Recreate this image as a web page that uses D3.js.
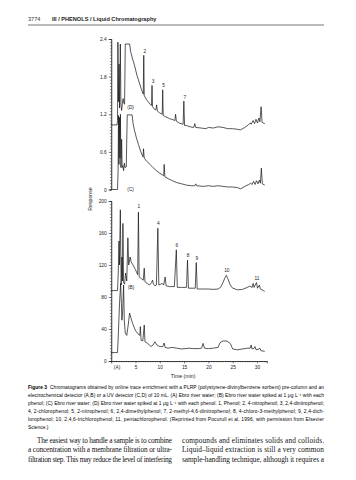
<!DOCTYPE html>
<html><head><meta charset="utf-8">
<script src="https://cdn.jsdelivr.net/npm/d3@7"></script>
<style>body{margin:0;background:#fff}svg{display:block}</style>
</head><body>
<svg id="c" width="356" height="480"></svg>
<script>
// ---- data ----
const xTicks = [5, 10, 15, 20, 25, 30];
const topTicks = [0, 0.6, 1.2, 1.8, 2.4];
const bottomTicks = [0, 40, 80, 120, 160, 200];
// trace D (UV, spiked) : [time min, response]
const traceD = [[0,1.03],[1.2,1.03],[1.3,1.1],[1.38,2.35],[1.5,1.4],[1.62,2.0],[1.72,1.3],[1.88,2.32],[2.0,1.35],[2.15,1.26],[2.3,1.38],[2.45,1.45],[2.6,1.38],[2.75,1.36],[2.9,2.32],[3.8,2.32],[4.0,2.2],[4.4,2.08],[4.8,1.98],[5.3,1.82],[5.8,1.7],[6.2,1.6],[6.6,1.52],[6.7,2.14],[6.8,1.5],[7.2,1.44],[7.6,1.4],[8.0,1.36],[8.3,1.34],[8.4,1.66],[8.5,1.32],[8.9,1.28],[9.2,1.27],[9.35,1.35],[9.5,1.25],[10.0,1.22],[10.5,1.2],[10.6,1.59],[10.7,1.18],[11.2,1.16],[12.0,1.13],[12.8,1.11],[13.1,1.1],[13.25,1.2],[13.4,1.09],[14.0,1.06],[14.8,1.04],[14.95,1.41],[15.1,1.02],[15.5,1.02],[16.2,1.0],[17.0,0.99],[17.2,1.05],[17.4,0.99],[18.5,0.98],[19.5,0.97],[20.0,0.99],[21,0.98],[22,1.0],[23,0.99],[24,0.97],[25,0.97],[26,0.96],[26.6,0.95],[27.5,0.99],[28.2,1.03],[28.6,1.06],[28.8,1.04],[29.2,1.1],[29.5,1.05],[29.8,1.12],[30.1,1.06],[30.4,1.14],[30.6,1.08],[30.85,1.32],[31.05,1.07],[31.6,1.05]];
// trace C (UV, river water)
const traceC = [[0,0],[1.3,0],[1.42,0.3],[1.5,1.18],[1.6,0.4],[1.7,1.15],[1.8,0.5],[1.9,1.2],[2.0,0.35],[2.15,0.8],[2.25,0.35],[2.4,0.38],[2.55,0.3],[2.7,0.42],[2.85,0.35],[3.1,0.36],[3.3,1.19],[4.3,1.19],[4.5,1.05],[4.8,0.94],[5.2,0.82],[5.6,0.72],[6.1,0.6],[6.55,0.52],[6.65,0.65],[6.8,0.5],[7.3,0.45],[8.0,0.4],[8.6,0.35],[9.3,0.3],[10.0,0.26],[10.8,0.22],[10.9,0.4],[11.05,0.2],[11.8,0.17],[12.6,0.14],[13.5,0.11],[14.5,0.09],[15.5,0.07],[16.5,0.06],[17.2,0.06],[17.4,0.09],[17.6,0.06],[19,0.05],[20,0.06],[21,0.05],[22,0.06],[23,0.05],[24,0.04],[25,0.04],[26,0.03],[26.6,0.01],[27.5,0.05],[28.3,0.08],[28.7,0.1],[29.0,0.08],[29.3,0.13],[29.6,0.08],[29.9,0.14],[30.2,0.09],[30.5,0.15],[30.7,0.1],[30.9,0.34],[31.1,0.09],[31.6,0.07]];
// trace B (electrochemical, spiked)
const traceB = [[0,88],[1.3,88],[1.45,110],[1.6,150],[1.7,120],[1.88,189],[2.05,95],[2.2,130],[2.3,100],[2.41,172],[2.55,98],[2.75,96],[2.95,110],[3.2,100],[3.43,154],[3.6,120],[3.9,130],[4.1,124],[4.5,120],[5.0,114],[5.45,108],[5.6,186],[5.75,105],[6.2,103],[6.6,101],[6.8,116],[6.95,99],[7.4,97],[7.9,95],[8.3,98],[8.5,101],[8.7,96],[9.0,94],[9.3,95],[9.6,166],[9.8,95],[10.2,96],[10.5,97],[10.8,95],[11.1,105],[11.3,94],[12.0,93],[13.0,93],[13.4,139],[13.6,92],[14.5,92],[15.5,92],[15.7,126],[15.9,91],[16.8,91],[17.3,91],[17.5,123],[17.7,90],[19,90],[20,90],[21,89.5],[22,90],[22.5,92],[23.0,98],[23.4,104],[23.7,107],[24.0,103],[24.5,95],[25,91],[26,89],[27,89.5],[28,92],[28.5,93.5],[29.0,92],[29.2,97],[29.4,92],[29.9,98],[30.1,91],[30.5,95],[30.7,90],[31.6,87]];
// trace A (electrochemical, river water)
const traceA = [[0,10.5],[1.3,10.5],[1.45,30],[1.7,70],[1.94,97],[2.1,72],[2.2,51],[2.35,60],[2.55,95],[2.7,50],[2.9,35],[3.2,32],[3.5,45],[3.78,60],[4.0,55],[4.4,47],[5.0,38],[5.5,34],[5.9,32],[6.0,43],[6.15,26],[6.5,25],[6.8,45],[6.95,24],[7.5,22],[8.2,18],[8.6,20],[9.0,24],[9.4,20],[10.0,18],[10.6,18],[10.9,22.5],[11.1,17],[11.7,16],[12.5,17],[13.5,16],[14.5,15],[16,16],[17,15.5],[18,15.5],[18.6,16],[18.9,22],[19.2,16],[20,15.5],[21,16],[22,17],[22.4,23],[23,25],[23.8,25],[24.5,22],[25.0,15],[26,14],[27,15],[28,16],[28.6,16],[28.8,20],[29.0,15],[29.4,16],[29.6,18],[29.8,14],[30.4,15],[30.6,16],[30.8,13],[31.6,12]];
// peak labels
const topPeaks = [["2",6.7,2.14],["3",8.4,1.66],["5",10.6,1.59],["7",14.95,1.41]];
const bottomPeaks = [["1",5.6,187],["4",9.6,166],["6",13.4,139],["8",15.7,126],["9",17.5,123],["10",23.7,107],["11",29.9,98]];

const captionLines = [
 ["Chromatograms obtained by online trace enrichment with a PLRP (polystyrene-divinylbenzene sorbent) pre-column and an", true],
 ["electrochemical detector (A,B) or a UV detector (C,D) of 10 mL. (A) Ebro river water; (B) Ebro river water spiked at 1 \u03bcg L\u207b\u00b9 with each", true],
 ["phenol; (C) Ebro river water; (D) Ebro river water spiked at 1 \u03bcg L\u207b\u00b9 with each phenol. 1, Phenol; 2, 4-nitrophenol; 3, 2,4-dinitrophenol;", true],
 ["4, 2-chlorophenol; 5, 2-nitrophenol; 6, 2,4-dimethylphenol; 7, 2-methyl-4,6-dinitrophenol; 8, 4-chloro-3-methylphenol; 9, 2,4-dich-", true],
 ["lorophenol; 10, 2,4,6-trichlorophenol; 11, pentachlorophenol. (Reprinted from Pocurull et al. 1996, with permission from Elsevier", true],
 ["Science.)", false]
];
const bodyLeft = ["The easiest way to handle a sample is to combine","a concentration with a membrane filtration or ultra-","filtration step. This may reduce the level of interfering"];
const bodyRight = ["compounds and eliminates solids and colloids.","Liquid\u2013liquid extraction is still a very common","sample-handling technique, although it requires a"];

// ---- drawing ----
const svg = d3.select("#c");
const sans = "Liberation Sans, Arial, sans-serif";
const serif = "Liberation Serif, Times New Roman, serif";

// header
svg.append("text").attr("x",28).attr("y",21).attr("font-family",sans).attr("font-size",5.6).attr("fill","#333").text("3774");
svg.append("text").attr("x",52).attr("y",21).attr("font-family",sans).attr("font-size",5.6).attr("font-weight","bold").attr("fill","#222").text("III / PHENOLS / Liquid Chromatography");
svg.append("line").attr("x1",28).attr("x2",324).attr("y1",25).attr("y2",25).attr("stroke","#777").attr("stroke-width",1.2);

const x = d3.scaleLinear().domain([0,32]).range([111.2,266.7]);
const yTop = d3.scaleLinear().domain([0,2.4]).range([189.5,39]);
const yBot = d3.scaleLinear().domain([0,200]).range([361,201]);

const axisFont = 4.8;
function styleAxis(g){
  g.selectAll("path.domain").attr("stroke","#222").attr("stroke-width",0.6);
  g.selectAll(".tick line").attr("stroke","#222").attr("stroke-width",0.5);
  g.selectAll(".tick text").attr("font-family",sans).attr("font-size",axisFont).attr("fill","#222");
}
// top y axis
const gTopMinor = svg.append("g").attr("transform","translate(111.2,0)")
  .call(d3.axisLeft(yTop).tickValues(d3.range(0,2.401,0.05)).tickSize(1.3).tickFormat(""));
styleAxis(gTopMinor);
const gTop = svg.append("g").attr("transform","translate(111.2,0)")
  .call(d3.axisLeft(yTop).tickValues(topTicks).tickSize(2.5).tickPadding(2).tickFormat(d=>d===0?"0":d3.format(".1f")(d)));
styleAxis(gTop);
// bottom y axis
const gBotMinor = svg.append("g").attr("transform","translate(111.2,0)")
  .call(d3.axisLeft(yBot).tickValues(d3.range(0,200.1,4)).tickSize(1.3).tickFormat(""));
styleAxis(gBotMinor);
const gBot = svg.append("g").attr("transform","translate(111.2,0)")
  .call(d3.axisLeft(yBot).tickValues(bottomTicks).tickSize(2.5).tickPadding(2).tickFormat(d3.format("d")));
styleAxis(gBot);
// x axis
const gXMinor = svg.append("g").attr("transform","translate(0,361)")
  .call(d3.axisBottom(x).tickValues(d3.range(0,32.01,0.5)).tickSize(1.3).tickFormat(""));
styleAxis(gXMinor);
const gX = svg.append("g").attr("transform","translate(0,361)")
  .call(d3.axisBottom(x).tickValues(xTicks).tickSize(2.5).tickPadding(2.5).tickFormat(d3.format("d")));
styleAxis(gX);

svg.append("text").attr("transform","translate(92,199) rotate(-90)").attr("text-anchor","middle")
  .attr("font-family",sans).attr("font-size",5.2).attr("fill","#222").text("Response");
svg.append("text").attr("x",x(14.8)).attr("y",378).attr("text-anchor","middle")
  .attr("font-family",sans).attr("font-size",5.2).attr("fill","#222").text("Time (min)");

// traces
const lineTop = d3.line().x(d=>x(d[0])).y(d=>yTop(d[1]));
const lineBot = d3.line().x(d=>x(d[0])).y(d=>yBot(d[1]));
[[traceD,lineTop],[traceC,lineTop],[traceB,lineBot],[traceA,lineBot]].forEach(([data,ln])=>{
  svg.append("path").datum(data).attr("d",ln).attr("fill","none").attr("stroke","#111").attr("stroke-width",0.7).attr("stroke-linejoin","round");
});

// peak labels
const lab = (tx,ty,t,anchor="middle")=>svg.append("text").attr("x",tx).attr("y",ty).attr("text-anchor",anchor)
  .attr("font-family",sans).attr("font-size",4.8).attr("fill","#222").text(t);
topPeaks.forEach(p=>lab(x(p[1])+1,yTop(p[2])-2.5,p[0]));
bottomPeaks.forEach(p=>lab(x(p[1])+0.5,yBot(p[2])-3,p[0]));
lab(x(4.0),yTop(1.28),"(D)");
lab(x(4.0),yTop(-0.02),"(C)");
lab(x(4.1),yBot(90),"(B)");
lab(x(1.2),369.3,"(A)");

// caption
const capFont = 4.9;
captionLines.forEach((l,i)=>{
  const yy = 389 + i*8;
  if(i===0){
    svg.append("text").attr("x",28).attr("y",yy).attr("font-family",sans).attr("font-size",capFont).attr("font-weight","bold").text("Figure 3");
    svg.append("text").attr("x",50).attr("y",yy).attr("font-family",sans).attr("font-size",capFont)
      .attr("textLength",274).attr("lengthAdjust","spacing").text(l[0]);
  } else {
    const t = svg.append("text").attr("x",28).attr("y",yy).attr("font-family",sans).attr("font-size",capFont).text(l[0]);
    if(l[1]) t.attr("textLength",296).attr("lengthAdjust","spacing");
  }
});
// body
const bodyFont = 7.3;
bodyLeft.forEach((l,i)=>{
  const x0 = i===0?37:28;
  svg.append("text").attr("x",x0).attr("y",442.5+i*9.5).attr("font-family",serif).attr("font-size",bodyFont)
    .attr("textLength",172-x0).attr("lengthAdjust","spacing").attr("fill","#111").text(l);
});
bodyRight.forEach((l,i)=>{
  svg.append("text").attr("x",182).attr("y",442.5+i*9.5).attr("font-family",serif).attr("font-size",bodyFont)
    .attr("textLength",142).attr("lengthAdjust","spacing").attr("fill","#111").text(l);
});
</script>
</body></html>
